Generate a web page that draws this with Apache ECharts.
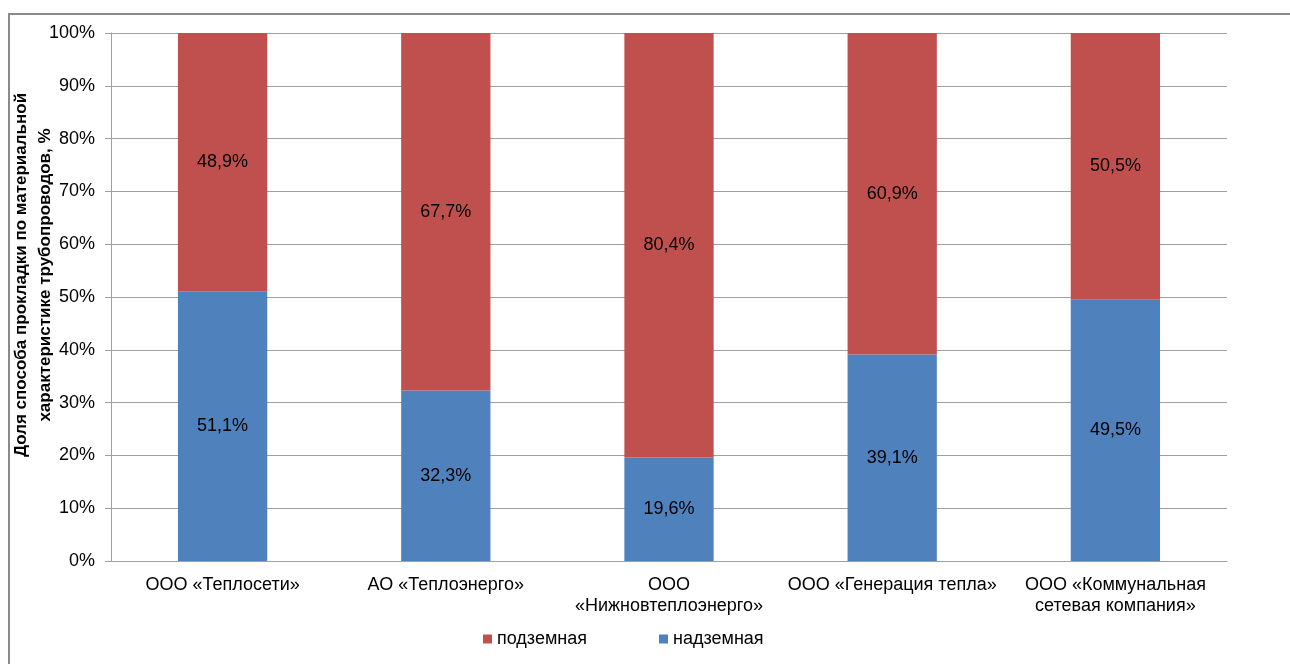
<!DOCTYPE html>
<html lang="ru">
<head>
    <meta charset="UTF-8">
    <title>Доля способа прокладки</title>
    <script src="https://cdn.jsdelivr.net/npm/echarts@6/dist/echarts.min.js"></script>
    <style>
        html, body { margin: 0; padding: 0; background: #fff; }
        #frame {
            position: absolute; left: 8px; top: 13px; width: 1300px; height: 700px;
            border-left: 2px solid #8a8a8a; border-top: 2px solid #8a8a8a;
            box-sizing: border-box;
        }
        #chart { position: absolute; left: 0; top: 0; width: 1290px; height: 664px; }
    </style>
</head>
<body>
    <div id="frame"></div>
    <div id="chart"></div>
    <script>
        var companies = ['ООО «Теплосети»', 'АО «Теплоэнерго»', 'ООО\n«Нижновтеплоэнерго»', 'ООО «Генерация тепла»', 'ООО «Коммунальная\nсетевая компания»'];
        var above = [51.1, 32.3, 19.6, 39.1, 49.5];
        var under = [48.9, 67.7, 80.4, 60.9, 50.5];
        var yTicks = [0, 10, 20, 30, 40, 50, 60, 70, 80, 90, 100];

        var font = '"Liberation Sans", Arial, sans-serif';
        var chart = echarts.init(document.getElementById('chart'));

        function pct(p) { return p.value.toFixed(1).replace('.', ',') + '%'; }

        chart.setOption({
            animation: false,
            textStyle: { fontFamily: font },
            grid: { left: 111, right: 63, top: 33, bottom: 103, containLabel: false, outerBoundsMode: 'none' },
            legend: {
                data: ['подземная', 'надземная'],
                top: 625,
                left: 478,
                itemWidth: 9, itemHeight: 9, itemGap: 72,
                icon: 'rect',
                textStyle: { fontSize: 18, color: '#000', fontFamily: font }
            },
            xAxis: {
                type: 'category',
                data: companies,
                axisLine: { lineStyle: { color: '#a0a0a0' } },
                axisTick: { lineStyle: { color: '#a0a0a0' }, length: 6 },
                axisLabel: { fontSize: 18, color: '#000', lineHeight: 21, margin: 14, interval: 0, fontFamily: font }
            },
            yAxis: {
                type: 'value',
                min: 0, max: 100, interval: 10,
                name: 'Доля способа прокладки по материальной\nхарактеристике трубопроводов, %',
                nameLocation: 'middle',
                nameGap: 54,
                nameRotate: 90,
                nameMoveOverlap: false,
                nameTextStyle: { fontSize: 17, fontWeight: 'bold', color: '#000', lineHeight: 24, fontFamily: font, padding: [0, 0, 0, 44] },
                axisLine: { show: true, lineStyle: { color: '#a0a0a0' } },
                axisTick: { show: true, length: 6, lineStyle: { color: '#a0a0a0' } },
                splitLine: { lineStyle: { color: '#a0a0a0' } },
                axisLabel: {
                    fontSize: 18, color: '#000', margin: 16, fontFamily: font,
                    formatter: function (v) { return yTicks.indexOf(v) >= 0 ? v + '%' : ''; }
                }
            },
            series: [
                {
                    name: 'надземная', type: 'bar', stack: 'total', data: above,
                    barWidth: '40%',
                    itemStyle: { color: '#4f81bd' },
                    label: { show: true, position: 'inside', color: '#000', fontSize: 18, formatter: pct, fontFamily: font }
                },
                {
                    name: 'подземная', type: 'bar', stack: 'total', data: under,
                    barWidth: '40%',
                    itemStyle: { color: '#c0504d' },
                    label: { show: true, position: 'inside', color: '#000', fontSize: 18, formatter: pct, fontFamily: font }
                }
            ]
        });
    </script>
</body>
</html>
